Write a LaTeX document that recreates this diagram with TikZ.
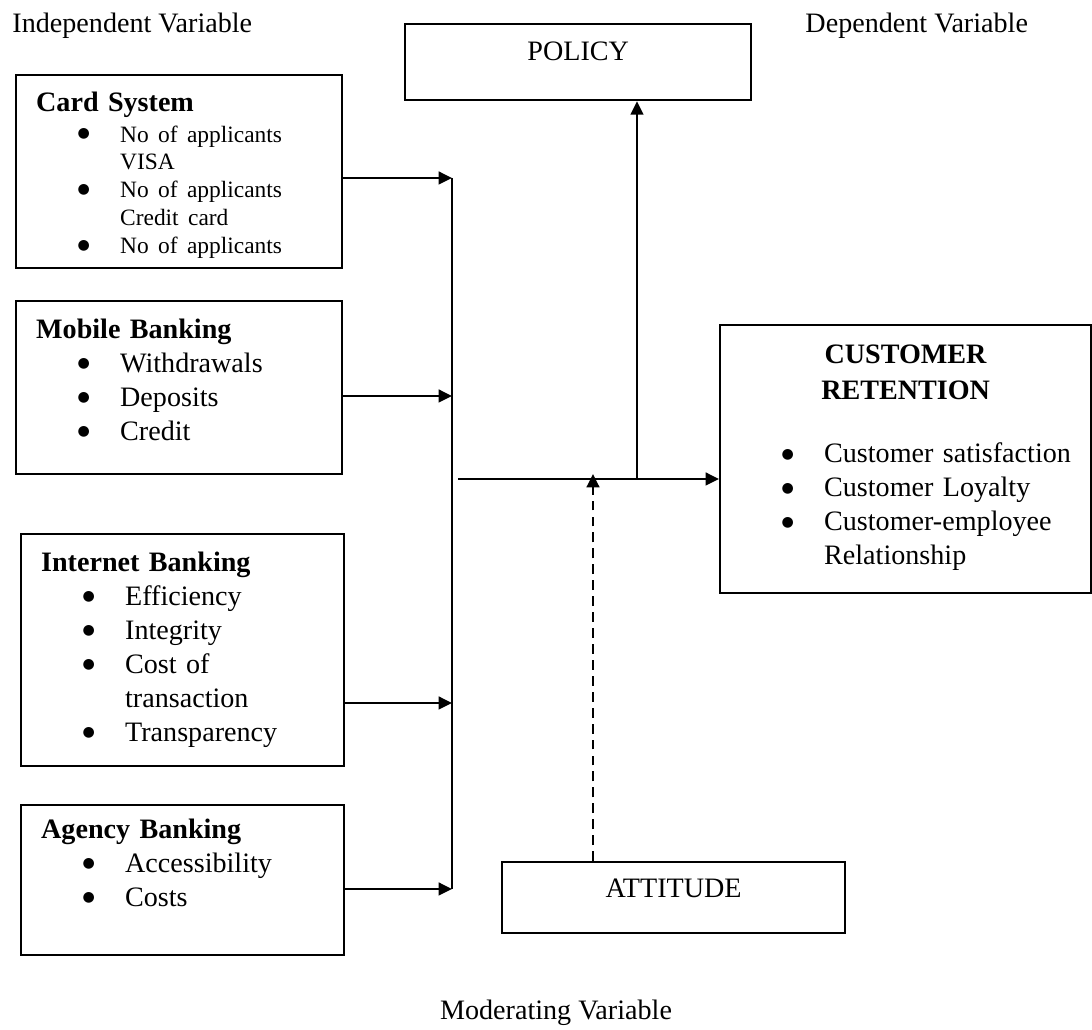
\documentclass[tikz,border=0pt]{standalone}
\usepackage{fontspec}
\setmainfont{Liberation Serif}
\newfontfamily\dotfont{DejaVu Sans}
\usetikzlibrary{arrows.meta,positioning}
\newcommand{\bdot}{\raisebox{1.9pt}{\dotfont\fontsize{6}{6}\selectfont ●}}
\newcommand{\bitem}[1]{\hspace*{0.62cm}\makebox[0.64cm][l]{\bdot}\mbox{#1}}
\newcommand{\bcont}[1]{\hspace*{1.26cm}\mbox{#1}}

\begin{document}
\begin{tikzpicture}[x=0.015cm,y=-0.015cm, every node/.style={font=\fontsize{12}{14.5}\selectfont},
  box/.style={draw,line width=1pt,anchor=north west,align=left,inner xsep=0.3cm,inner ysep=0pt,text height=0pt},
  lbl/.style={anchor=base west,inner sep=0pt},
  a/.style={-{Triangle[length=2mm,width=1.9mm]},line width=1pt},
  da/.style={a,dash pattern=on 4.2pt off 2.6pt}]
  \useasboundingbox (0,0) rectangle (1092,1030);
  \node[lbl] (indep) at (12,33) {Independent Variable};
  \node[lbl] (dep) at (805,33) {Dependent Variable};
  \node[lbl,anchor=base] (moder) at (556,1020) {Moderating Variable};
  % independent variables
  \node[box,minimum width=4.89cm,minimum height=2.895cm,text width=4.29cm,text depth=1.815cm] (card) at (15,74)
    {\textbf{Card System}\\[1.3pt]\fontsize{10}{11.9}\selectfont\bitem{No of applicants}\\\bcont{VISA}\\\bitem{No of applicants}\\\bcont{Credit card}\\\bitem{No of applicants}\par};
  \node[box,minimum width=4.89cm,minimum height=2.595cm,text width=4.29cm,text depth=1.485cm] (mob) at (15,300)
    {\textbf{Mobile Banking}\\\bitem{Withdrawals}\\\bitem{Deposits}\\\bitem{Credit}};
  \node[box,minimum width=4.845cm,minimum height=3.48cm,text width=4.245cm,text depth=2.37cm] (net) at (20,533)
    {\textbf{Internet Banking}\\\bitem{Efficiency}\\\bitem{Integrity}\\\bitem{Cost of}\\\bcont{transaction}\\\bitem{Transparency}};
  \node[box,minimum width=4.845cm,minimum height=2.25cm,text width=4.245cm,text depth=1.26cm] (agent) at (20,804)
    {\textbf{Agency Banking}\\\bitem{Accessibility}\\\bitem{Costs}};
  % dependent and moderating
  \node[box,minimum width=5.19cm,minimum height=1.14cm,text depth=0.06cm] (policy) at (404,23) {POLICY};
  \node[box,minimum width=5.565cm,minimum height=4.02cm,text width=4.965cm,text depth=2.88cm] (cust) at (719,324)
    {\makebox[\linewidth]{\textbf{CUSTOMER}}\\[0.8pt]\makebox[\linewidth]{\textbf{RETENTION}}\\[0.45cm]\bitem{Customer satisfaction}\\\bitem{Customer Loyalty}\\\bitem{Customer-employee}\\\bcont{Relationship}};
  \node[box,minimum width=5.145cm,minimum height=1.065cm,text depth=0pt] (att) at (501,861) {ATTITUDE};
  % connectors
  \coordinate (b1) at (452,178); \coordinate (b2) at (452,396); \coordinate (b3) at (452,703); \coordinate (b4) at (452,889);
  \coordinate (j0) at (458,479); \coordinate (j1) at (637,479); \coordinate (j2) at (593,474);
  \draw[a] (card.east |- b1) -- (b1); \draw[a] (mob.east |- b2) -- (b2);
  \draw[a] (net.east |- b3) -- (b3); \draw[a] (agent.east |- b4) -- (b4);
  \draw[line width=1pt] (b1) -- (b4);
  \draw[a] (j0) -- (j0 -| cust.west);
  \draw[a] (j1) -- (j1 |- policy.south);
  \draw[da] (att.north -| j2) -- (j2);
\end{tikzpicture}
\end{document}
